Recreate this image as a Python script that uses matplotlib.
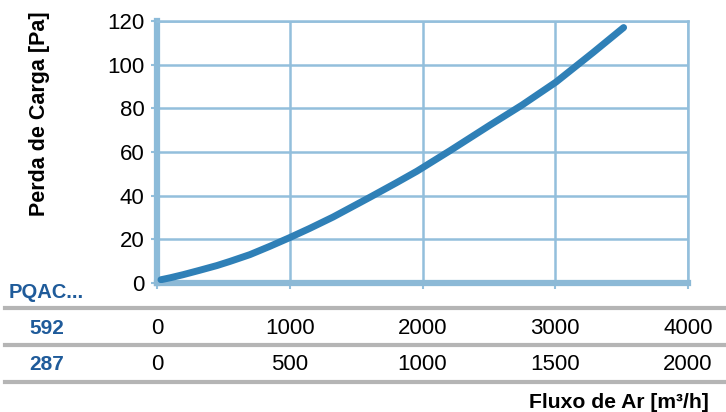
import matplotlib
matplotlib.use('Agg')
import matplotlib.pyplot as plt
from matplotlib.lines import Line2D
from matplotlib.transforms import blended_transform_factory

plt.rcParams['font.family'] = ['Liberation Sans', 'DejaVu Sans']

# curva de perda de carga (x em m3/h do modelo 592)
fluxo = [30, 100, 196, 320, 452, 550, 700, 850, 1000, 1150, 1326, 1605, 1800, 1958,
         2207, 2508, 2750, 3005, 3284, 3515]
perda = [1.5, 2.4, 3.8, 5.8, 8.0, 9.9, 13.0, 16.8, 20.8, 25.0, 30.2, 39.3, 45.8, 51.2,
         60.6, 72.3, 81.5, 92.0, 105.5, 117.0]

yticks = [0, 20, 40, 60, 80, 100, 120]
xticks = [0, 1000, 2000, 3000, 4000]
linhas = ['592', '287']
rotulos = [['0', '1000', '2000', '3000', '4000'],
           ['0', '500', '1000', '1500', '2000']]

azul_grade = '#93bfdc'
azul_linha = '#2f80b7'
azul_txt = '#1f5b9a'

fig = plt.figure(figsize=(7.26, 4.12), dpi=100)
ax = fig.add_axes([157 / 726, 1 - 283 / 412, (688 - 157) / 726, (283 - 21) / 412])

ax.plot(fluxo, perda, color=azul_linha, lw=5, solid_capstyle='round', solid_joinstyle='round', zorder=3)
ax.set_xlim(0, 4000)
ax.set_ylim(0, 120)
ax.set_xticks(xticks)
ax.set_yticks(yticks)
ax.set_xticklabels([])
ax.tick_params(axis='both', colors=azul_grade, length=4, width=1.5, labelcolor='black', labelsize=16, pad=5)
ax.grid(True, color=azul_grade, lw=1.8)
ax.set_axisbelow(True)
for s in ['top', 'right']:
    ax.spines[s].set_color(azul_grade)
    ax.spines[s].set_linewidth(1.8)
ax.spines['left'].set_color('#8cbbd9')
ax.spines['left'].set_linewidth(4.5)
ax.spines['bottom'].set_color('#8cb9d6')
ax.spines['bottom'].set_linewidth(4.5)

fig.text(40 / 726, 1 - 114 / 412, 'Perda de Carga [Pa]', rotation=90, ha='center', va='center',
         fontsize=15.5, fontweight='bold')

# tabela de fluxos
tr = blended_transform_factory(ax.transData, fig.transFigure)
fig.text(9 / 726, 1 - 293 / 412, 'PQAC...', ha='left', va='center', fontsize=14.5,
         color=azul_txt, fontweight='bold')
ys = [1 - 328 / 412, 1 - 364 / 412]
for i, nome in enumerate(linhas):
    fig.text(47 / 726, ys[i], nome, ha='center', va='center', fontsize=15, color=azul_txt,
             fontweight='bold')
    for xv, lab in zip(xticks, rotulos[i]):
        ax.text(xv, ys[i], lab, transform=tr, ha='center', va='center', fontsize=16, clip_on=False)

for yl in [308, 345, 382]:
    fig.add_artist(Line2D([5 / 726, 1], [1 - yl / 412] * 2, color='#b5b5b5', lw=3))

fig.text(709 / 726, 1 - 402 / 412, 'Fluxo de Ar [m³/h]', ha='right', va='center',
         fontsize=15.2, fontweight='bold')

fig.savefig('out.png', dpi=100)
